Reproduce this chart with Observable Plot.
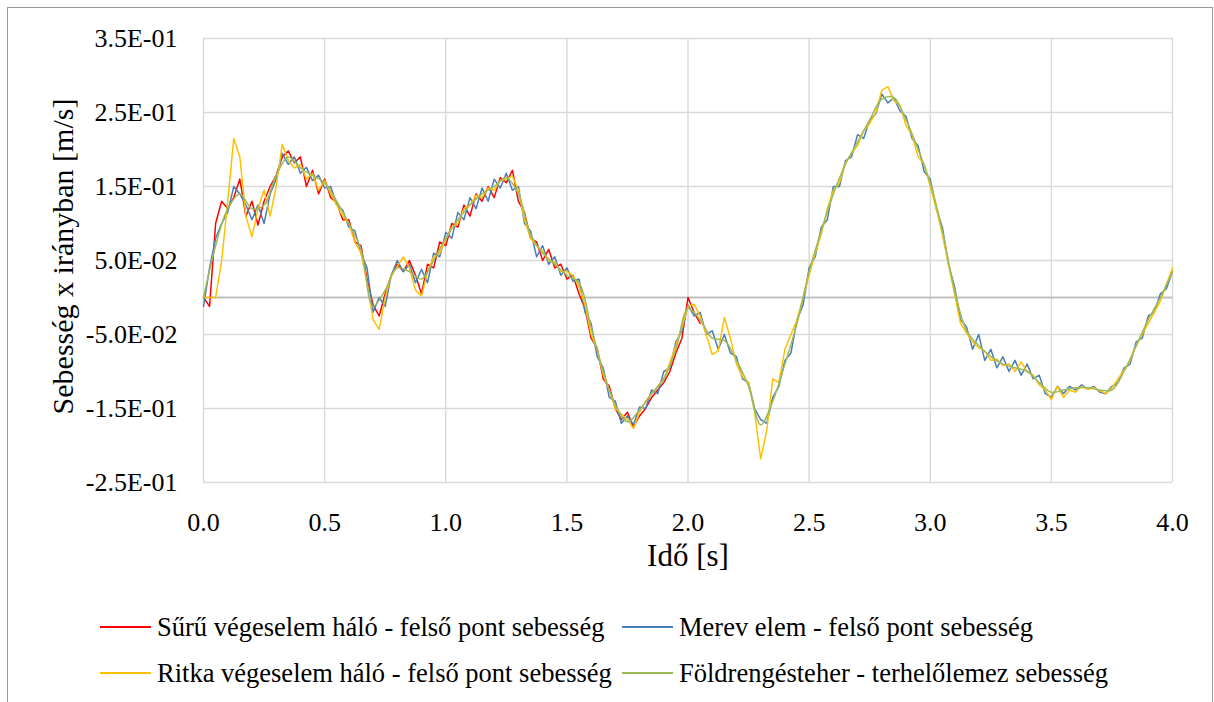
<!DOCTYPE html>
<html><head><meta charset="utf-8">
<script src="https://cdn.jsdelivr.net/npm/d3@7"></script>
<script src="https://cdn.jsdelivr.net/npm/@observablehq/plot@0.6"></script>
<style>
html,body{margin:0;padding:0;background:#fff;}
body{width:1214px;height:702px;overflow:hidden;position:relative;}
#frame{position:absolute;left:7px;top:7px;width:1206px;height:740px;border:1px solid #9a9a9a;box-sizing:border-box;}
#chart{position:absolute;left:0;top:0;}
#legend{position:absolute;left:0;top:0;width:1214px;height:702px;pointer-events:none;}
.txt{position:absolute;font-size:26.5px;line-height:30px;white-space:nowrap;color:#000;}
.sw{position:absolute;width:51px;height:2px;}
</style></head><body>
<div id="frame"></div>
<div id="chart"></div>
<div id="legend"></div>
<script>
// ---- data ----
const dtFine = 0.025;   // sampling step of the noisy series [s]
const dtGround = 0.05;  // sampling step of the ground-motion series [s]

const seriesNames = [
  "Sűrű végeselem háló - felső pont sebesség",
  "Merev elem - felső pont sebesség",
  "Ritka végeselem háló - felső pont sebesség",
  "Földrengésteher - terhelőlemez sebesség"
];
const seriesColors = ["#ff0000", "#4a7ebb", "#ffc000", "#9bbb59"];

const suru = [
  0,-0.012,0.1,0.13,0.12,0.135,0.16,0.11,0.13,0.098,
  0.13,0.15,0.165,0.19,0.198,0.182,0.19,0.15,0.172,0.14,
  0.16,0.135,0.128,0.105,0.105,0.075,0.07,0.025,-0.01,-0.025,
  0.005,0.03,0.045,0.035,0.05,0.03,0.005,0.045,0.04,0.075,
  0.07,0.1,0.095,0.125,0.11,0.14,0.13,0.15,0.135,0.162,
  0.155,0.172,0.13,0.115,0.08,0.075,0.05,0.065,0.04,0.045,
  0.025,0.03,0.005,-0.015,-0.055,-0.068,-0.11,-0.12,-0.15,-0.165,
  -0.155,-0.175,-0.16,-0.15,-0.135,-0.125,-0.115,-0.1,-0.075,-0.055,
  0.0,-0.02,-0.035
];

const merev = [
  -0.012,0.04,0.08,0.1,0.115,0.15,0.14,0.125,0.105,0.125,
  0.1,0.14,0.16,0.195,0.18,0.19,0.168,0.176,0.158,0.165,
  0.148,0.15,0.125,0.118,0.095,0.09,0.06,0.04,-0.02,0.0,
  -0.012,0.03,0.05,0.035,0.045,0.02,0.038,0.02,0.06,0.055,
  0.088,0.08,0.115,0.105,0.135,0.12,0.148,0.13,0.16,0.148,
  0.168,0.145,0.15,0.1,0.09,0.055,0.07,0.045,0.055,0.03,
  0.04,0.022,0.025,-0.02,-0.035,-0.08,-0.095,-0.135,-0.14,-0.17,
  -0.16,-0.172,-0.148,-0.15,-0.125,-0.13,-0.1,-0.095,-0.06,-0.045,
  -0.01,-0.025,-0.02,-0.05,-0.045,-0.07,-0.05,-0.075,-0.08,-0.11,
  -0.115,-0.15,-0.165,-0.17,-0.135,-0.12,-0.085,-0.075,-0.03,-0.01,
  0.04,0.055,0.095,0.105,0.15,0.15,0.185,0.19,0.22,0.215,
  0.24,0.248,0.275,0.263,0.27,0.252,0.245,0.215,0.205,0.17,
  0.16,0.12,0.095,0.045,0.015,-0.03,-0.04,-0.07,-0.05,-0.085,
  -0.07,-0.095,-0.08,-0.1,-0.085,-0.105,-0.09,-0.11,-0.105,-0.13,
  -0.135,-0.12,-0.13,-0.12,-0.125,-0.118,-0.124,-0.12,-0.128,-0.13,
  -0.12,-0.115,-0.095,-0.09,-0.06,-0.055,-0.025,-0.02,0.005,0.012,
  0.035
];

const ritka = [
  0,0,0,0.05,0.13,0.215,0.19,0.11,0.082,0.12,
  0.145,0.11,0.15,0.207,0.185,0.175,0.18,0.16,0.168,0.145,
  0.158,0.14,0.125,0.11,0.1,0.075,0.06,0.02,-0.03,-0.043,
  0.0,0.03,0.042,0.055,0.04,0.01,0.002,0.035,0.055,0.06,
  0.078,0.095,0.1,0.12,0.125,0.138,0.135,0.148,0.145,0.158,
  0.16,0.164,0.145,0.105,0.08,0.07,0.062,0.05,0.048,0.035,
  0.035,0.03,0.015,-0.01,-0.05,-0.07,-0.105,-0.125,-0.15,-0.158,
  -0.165,-0.177,-0.155,-0.14,-0.13,-0.12,-0.11,-0.088,-0.065,-0.04,
  -0.012,-0.009,-0.025,-0.05,-0.077,-0.072,-0.027,-0.055,-0.09,-0.107,
  -0.115,-0.155,-0.218,-0.18,-0.11,-0.115,-0.07,-0.05,-0.03,0.0,
  0.03,0.06,0.085,0.12,0.145,0.155,0.182,0.195,0.205,0.225,
  0.235,0.25,0.28,0.285,0.266,0.26,0.232,0.22,0.19,0.18,
  0.15,0.12,0.085,0.045,0.005,-0.035,-0.048,-0.06,-0.068,-0.072,
  -0.085,-0.083,-0.092,-0.09,-0.1,-0.087,-0.1,-0.105,-0.118,-0.125,
  -0.138,-0.12,-0.135,-0.125,-0.128,-0.12,-0.124,-0.122,-0.126,-0.13,
  -0.122,-0.11,-0.098,-0.085,-0.065,-0.05,-0.035,-0.02,-0.005,0.018,
  0.04
];

const foldrenges = [
  0,0.07,0.12,0.14,0.12,0.125,0.165,0.19,0.175,0.165,
  0.155,0.13,0.1,0.065,-0.012,0.01,0.04,0.035,0.025,0.05,
  0.08,0.105,0.125,0.14,0.15,0.162,0.14,0.085,0.06,0.045,
  0.03,0.02,-0.04,-0.1,-0.145,-0.168,-0.152,-0.13,-0.11,-0.07,
  -0.015,-0.03,-0.055,-0.058,-0.085,-0.12,-0.172,-0.14,-0.09,-0.035,
  0.035,0.09,0.14,0.18,0.21,0.24,0.268,0.27,0.24,0.2,
  0.155,0.09,0.01,-0.045,-0.065,-0.08,-0.09,-0.095,-0.1,-0.115,
  -0.128,-0.125,-0.122,-0.122,-0.125,-0.125,-0.1,-0.065,-0.03,0.0,
  0.035
];

const xTicks = [0,0.5,1,1.5,2,2.5,3,3.5,4];
const xTickLabels = ["0.0","0.5","1.0","1.5","2.0","2.5","3.0","3.5","4.0"];
const yTicks = [-0.25,-0.15,-0.05,0.05,0.15,0.25,0.35];
const yTickLabels = ["-2.5E-01","-1.5E-01","-5.0E-02","5.0E-02","1.5E-01","2.5E-01","3.5E-01"];
const xTitle = "Idő [s]";
const yTitle = "Sebesség x irányban [m/s]";

// ---- pick an installed serif (Times-like) font ----
function hasFont(name) {
  const c = document.createElement("canvas").getContext("2d");
  const s = "Sebesség mmmmmwwwiiilll 0123456789";
  for (const base of ["monospace", "sans-serif"]) {
    c.font = `72px ${base}`;
    const w0 = c.measureText(s).width;
    c.font = `72px "${name}", ${base}`;
    if (Math.abs(c.measureText(s).width - w0) > 0.5) return true;
  }
  return false;
}
const serifFont = ["Liberation Serif", "Times New Roman", "Tinos", "Nimbus Roman", "DejaVu Serif", "Noto Serif"].find(hasFont);
const fontStack = (serifFont ? `"${serifFont}", ` : "") + "serif";
document.body.style.fontFamily = fontStack;

// ---- build ----
const toRows = (arr, dt) => arr.map((v, i) => ({t: +(i * dt).toFixed(4), v}));
const xLab = new Map(xTicks.map((d, i) => [d, xTickLabels[i]]));
const yLab = new Map(yTicks.map((d, i) => [d, yTickLabels[i]]));

const chart = Plot.plot({
  width: 1214,
  height: 560,
  marginLeft: 203,
  marginRight: 42,
  marginTop: 38,
  marginBottom: 78,
  style: {fontFamily: fontStack, color: "#000", background: "transparent", overflow: "visible"},
  x: {domain: [0, 4]},
  y: {domain: [-0.25, 0.35]},
  marks: [
    Plot.ruleX(xTicks, {stroke: "#d9d9d9", strokeWidth: 1.4}),
    Plot.ruleY(yTicks, {stroke: "#d9d9d9", strokeWidth: 1.4}),
    Plot.ruleY([0], {stroke: "#bfbfbf", strokeWidth: 2}),
    Plot.axisY({ticks: yTicks, tickFormat: d => yLab.get(d), tickSize: 0, tickPadding: 26, fontSize: 26, label: null}),
    Plot.axisX({ticks: xTicks, tickFormat: d => xLab.get(d), tickSize: 0, tickPadding: 30, fontSize: 26, label: null}),
    Plot.line(toRows(suru, dtFine), {x: "t", y: "v", stroke: seriesColors[0], strokeWidth: 1.5}),
    Plot.line(toRows(merev, dtFine), {x: "t", y: "v", stroke: seriesColors[1], strokeWidth: 1.5}),
    Plot.line(toRows(ritka, dtFine), {x: "t", y: "v", stroke: seriesColors[2], strokeWidth: 1.5}),
    Plot.line(toRows(foldrenges, dtGround), {x: "t", y: "v", stroke: seriesColors[3], strokeWidth: 1.5, curve: "catmull-rom"}),
    Plot.text([yTitle], {frameAnchor: "left", textAnchor: "middle", lineAnchor: "middle", rotate: -90, dx: -140, dy: -4, fontSize: 30, fill: "#000"}),
    Plot.text([xTitle], {frameAnchor: "bottom", textAnchor: "middle", lineAnchor: "middle", dy: 74, fontSize: 31, fill: "#000"})
  ]
});
document.getElementById("chart").appendChild(chart);

// ---- legend (below the plot) ----
const leg = document.getElementById("legend");
const pos = [
  {sx: 100, tx: 157, cy: 627},
  {sx: 622, tx: 679, cy: 627},
  {sx: 100, tx: 157, cy: 673},
  {sx: 622, tx: 679, cy: 673}
];
seriesNames.forEach((name, i) => {
  const p = pos[i];
  const sw = document.createElement("div");
  sw.className = "sw";
  sw.style.left = p.sx + "px";
  sw.style.top = (p.cy - 1) + "px";
  sw.style.background = seriesColors[i];
  leg.appendChild(sw);
  const t = document.createElement("div");
  t.className = "txt";
  t.style.left = p.tx + "px";
  t.style.top = (p.cy - 15) + "px";
  t.style.fontFamily = fontStack;
  t.textContent = name;
  leg.appendChild(t);
});
</script>
</body></html>
